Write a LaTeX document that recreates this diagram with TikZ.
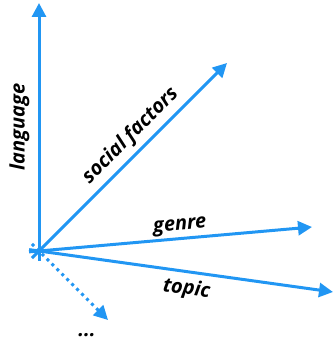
\documentclass[tikz,border=0pt]{standalone}
\usepackage{fontspec}
\setmainfont{Open Sans}
\usetikzlibrary{arrows.meta}
\definecolor{axblue}{RGB}{33,150,243}
\newcommand{\axa}[5]{\path (#1) edge node[sloped,above=#3,pos=#4] {#2} (#5); }
\newcommand{\axb}[5]{\path (#1) edge node[sloped,below=#3,pos=#4] {#2} (#5); }

\begin{document}
\begin{tikzpicture}[x=1pt,y=1pt,-{Triangle[length=14pt,width=14pt]},line width=3pt,color=axblue,shorten <=-10pt,every node/.style={font=\bfseries\itshape\fontsize{20}{20}\selectfont,text=black,inner sep=1pt}]
  \useasboundingbox (0,0) rectangle (334,345);
  \coordinate (o) at (39,94);
  \coordinate (lang) at (39,342);
  \coordinate (soc) at (227,282);
  \coordinate (gen) at (312,118);
  \coordinate (top) at (333,53);
  \coordinate (more) at (108,25);
  \axa o{language}{7pt}{.50}{lang}
  \axa o{social factors}{4pt}{.55}{soc}
  \axa o{genre}{1pt}{.52}{gen}
  \axb o{topic}{5pt}{.51}{top}
  \path (o) edge[dash pattern=on 3pt off 4pt] (more);
  \node (dots) at (87,10) {...};
\end{tikzpicture}
\end{document}
